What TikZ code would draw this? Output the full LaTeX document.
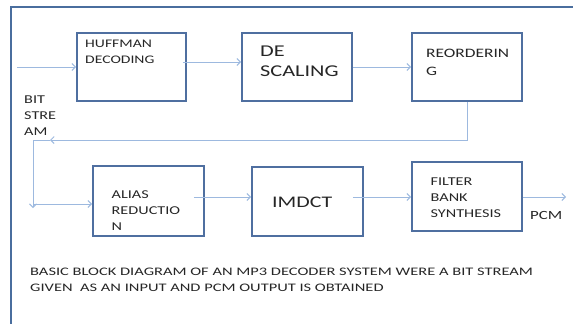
\documentclass[tikz,border=0pt]{standalone}
\usepackage{fontspec}
\setmainfont{Carlito}[FakeStretch=1.35]
\newfontfamily\wideface{Carlito}[FakeStretch=1.43]
\usetikzlibrary{arrows.meta,calc}
\definecolor{framecol}{HTML}{4A6E9E}
\definecolor{boxcol}{HTML}{4F6FA0}
\definecolor{wirecol}{HTML}{9DB9DF}
\definecolor{inkcol}{HTML}{262626}
\tikzset{
  stage/.style={draw=boxcol, line width=1.8pt, rectangle, inner sep=0pt},
  wire/.style={draw=wirecol, line width=1pt},
  flow/.style={wire, -{Straight Barb[length=3.5pt,width=7pt]}},
  % anchored on the baseline of the last line of the label
  lbl/.style={inner sep=0pt, anchor=base west, align=left, text=inkcol},
}
\begin{document}
\begin{tikzpicture}[x=1pt, y=-1pt]
\useasboundingbox (0,0) rectangle (573,324);
% page frame (top and left edges)
\draw[framecol, line width=1.8pt] (573,7) -- (11,7) -- (11,324);

% processing stages
\node[stage, minimum width=109pt, minimum height=68pt] (hd) at (131.5,67) {};
\node[stage, minimum width=110pt, minimum height=68pt] (ds) at (297,67) {};
\node[stage, minimum width=110pt, minimum height=68pt] (ro) at (467,67) {};
\node[stage, minimum width=111pt, minimum height=70pt] (ar) at (148.5,201) {};
\node[stage, minimum width=111pt, minimum height=69pt] (im) at (307.5,201.5) {};
\node[stage, minimum width=110pt, minimum height=69pt] (fb) at (467,196.5) {};

% stage captions
\node[lbl, font=\fontsize{11.6}{16}\selectfont] (thd) at (85,63.7) {HUFFMAN\\DECODING};
\node[lbl, font=\fontsize{16.5}{20}\selectfont] (tds) at (260,76.5) {DE\\SCALING};
\node[lbl, font=\fontsize{12.9}{18}\selectfont] (tro) at (426,75.3) {REORDERIN\\G};
\node[lbl, font=\fontsize{12}{16}\selectfont] (tar) at (111.5,230) {ALIAS\\REDUCTIO\\N};
\node[lbl, font=\fontsize{16.2}{20}\selectfont] (tim) at (272,207) {IMDCT};
\node[lbl, font=\fontsize{12}{15.8}\selectfont] (tfb) at (430.5,217.3) {FILTER\\BANK\\SYNTHESIS};

% stream labels
\node[lbl, font=\fontsize{12}{16.2}\selectfont] (tbs) at (24,135.7) {BIT\\STRE\\AM};
\node[lbl, font=\fontsize{12.5}{16}\selectfont] (tpcm) at (530,219) {PCM};
\node[lbl, font=\wideface\fontsize{11.5}{16}\selectfont] (tcap) at (30,291.7)
  {BASIC BLOCK DIAGRAM OF AN MP3 DECODER SYSTEM WERE A BIT STREAM\\GIVEN\ \ AS AN INPUT AND PCM OUTPUT IS OBTAINED};

% free ends of the connectors
\coordinate (bsin) at (17,67);
\coordinate (ret) at (50,140);
\coordinate (drop) at (33,208);
\coordinate (feed) at (33,204);
\coordinate (pcmout) at (566,197);

% connectors
\draw[flow] (bsin) -- (hd.west);
\draw[flow] ($(hd.east)+(-4,-5)$) -- ($(ds.west)+(0,-5)$);
\draw[flow] (ds.east) -- (ro.west);
\draw[flow] (ro.south) |- (ret);
\draw[flow] (ret) -| (drop);
\draw[flow] (feed) -- (feed -| ar.west);
\draw[flow] ($(ar.east)+(-11,-4)$) -- ($(im.west)+(0,-4.5)$);
\draw[flow] ($(im.east)+(-11,-4.5)$) -- ($(fb.west)+(0,0.5)$);
\draw[flow] ($(fb.east)+(0,0.5)$) -- (pcmout);
\end{tikzpicture}
\end{document}
